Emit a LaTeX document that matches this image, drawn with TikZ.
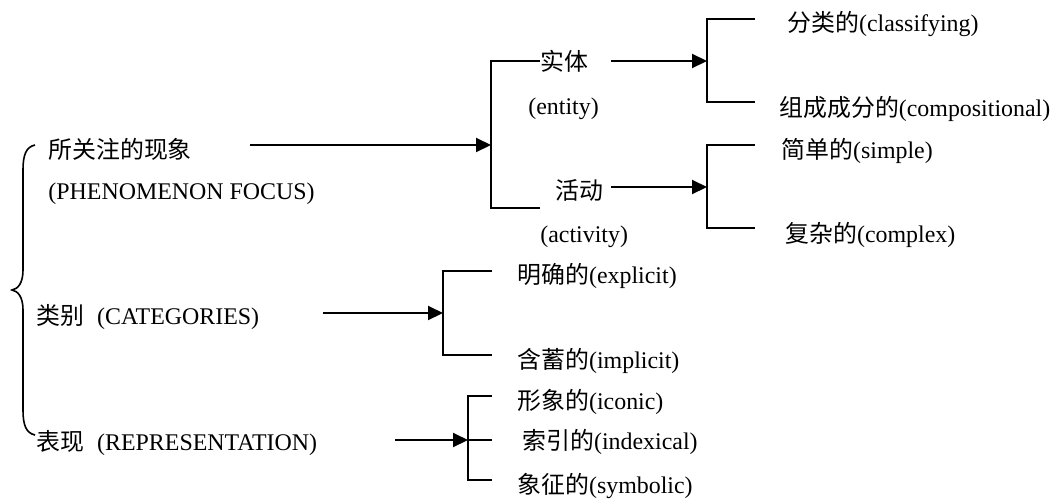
\documentclass[tikz,border=0pt]{standalone}
\usepackage{fontspec}
\setmainfont{Liberation Serif}
\newfontfamily\cjk{Noto Sans CJK SC}
\usetikzlibrary{arrows.meta}
\begin{document}
\begin{tikzpicture}[x=0.5pt,y=-0.5pt,
  lbl/.style={anchor=west,inner sep=0,font=\fontsize{11.95}{14}\selectfont,text height=9pt,text depth=2.5pt},
  conn/.style={line width=1pt},
  arr/.style={conn,-{Triangle[length=7.5pt,width=7pt]}}]
\useasboundingbox (0,0) rectangle (1052,498);

% brace
\coordinate (brT) at (35,145);
\coordinate (brM) at (12,290);
\coordinate (brB) at (35,435);
\draw[line width=0.8pt] (brT) .. controls (26,147) and (23,155) .. (23,170) -- (23,270)
  .. controls (23,283) and (18,289) .. (brM)
  .. controls (18,291) and (23,297) .. (23,310) -- (23,410)
  .. controls (23,425) and (26,433) .. (brB);

% left labels
\node[lbl] (pf) at (48,152) {\cjk 所关注的现象};
\node[lbl] (pfe) at (48,193) {(PHENOMENON FOCUS)};
\node[lbl] (cat) at (36,318) {{\cjk 类别}\hspace{6.5pt}(CATEGORIES)};
\node[lbl] (rep) at (36,444) {{\cjk 表现}\hspace{6.5pt}(REPRESENTATION)};

% middle labels
\node[lbl] (ent) at (540,64) {\cjk 实体};
\node[lbl] (ente) at (528,108) {(entity)};
\node[lbl] (act) at (555,193) {\cjk 活动};
\node[lbl] (acte) at (540,236) {(activity)};

% right labels
\node[lbl] (cls) at (787,25) {{\cjk 分类的}(classifying)};
\node[lbl] (cmp) at (779,110) {{\cjk 组成成分的}(compositional)};
\node[lbl] (smp) at (781,152) {{\cjk 简单的}(simple)};
\node[lbl] (cpx) at (785,236) {{\cjk 复杂的}(complex)};
\node[lbl] (exp) at (517,277) {{\cjk 明确的}(explicit)};
\node[lbl] (imp) at (517,362) {{\cjk 含蓄的}(implicit)};
\node[lbl] (ico) at (517,403) {{\cjk 形象的}(iconic)};
\node[lbl] (idx) at (522,443) {{\cjk 索引的}(indexical)};
\node[lbl] (sym) at (517,487) {{\cjk 象征的}(symbolic)};

% phenomenon focus arrow and bracket
\coordinate (a1s) at (250,145);
\coordinate (b1m) at (491,145);
\coordinate (b1t) at (491,61);
\coordinate (b1te) at (540,61);
\coordinate (b1b) at (491,208);
\coordinate (b1be) at (540,208);
\draw[arr] (a1s) -- (b1m);
\draw[conn] (b1te) -- (b1t) -- (b1b) -- (b1be);

% entity arrow and bracket
\coordinate (a2s) at (611,61);
\coordinate (b2m) at (707,61);
\coordinate (b2t) at (707,19);
\coordinate (b2te) at (755,19);
\coordinate (b2b) at (707,102);
\coordinate (b2be) at (755,102);
\draw[arr] (a2s) -- (b2m);
\draw[conn] (b2te) -- (b2t) -- (b2b) -- (b2be);

% activity arrow and bracket
\coordinate (a3s) at (611,187);
\coordinate (b3m) at (707,187);
\coordinate (b3t) at (707,145);
\coordinate (b3te) at (755,145);
\coordinate (b3b) at (707,228);
\coordinate (b3be) at (755,228);
\draw[arr] (a3s) -- (b3m);
\draw[conn] (b3te) -- (b3t) -- (b3b) -- (b3be);

% categories arrow and bracket
\coordinate (a4s) at (323,313);
\coordinate (b4m) at (443,313);
\coordinate (b4t) at (443,271);
\coordinate (b4te) at (492,271);
\coordinate (b4b) at (443,355);
\coordinate (b4be) at (492,355);
\draw[arr] (a4s) -- (b4m);
\draw[conn] (b4te) -- (b4t) -- (b4b) -- (b4be);

% representation arrow and bracket
\coordinate (a5s) at (395,440);
\coordinate (b5m) at (468,440);
\coordinate (b5me) at (492,440);
\coordinate (b5t) at (468,396);
\coordinate (b5te) at (492,396);
\coordinate (b5b) at (468,480);
\coordinate (b5be) at (492,480);
\draw[arr] (a5s) -- (b5m);
\draw[conn] (b5te) -- (b5t) -- (b5b) -- (b5be);
\draw[conn] (b5m) -- (b5me);
\end{tikzpicture}
\end{document}
